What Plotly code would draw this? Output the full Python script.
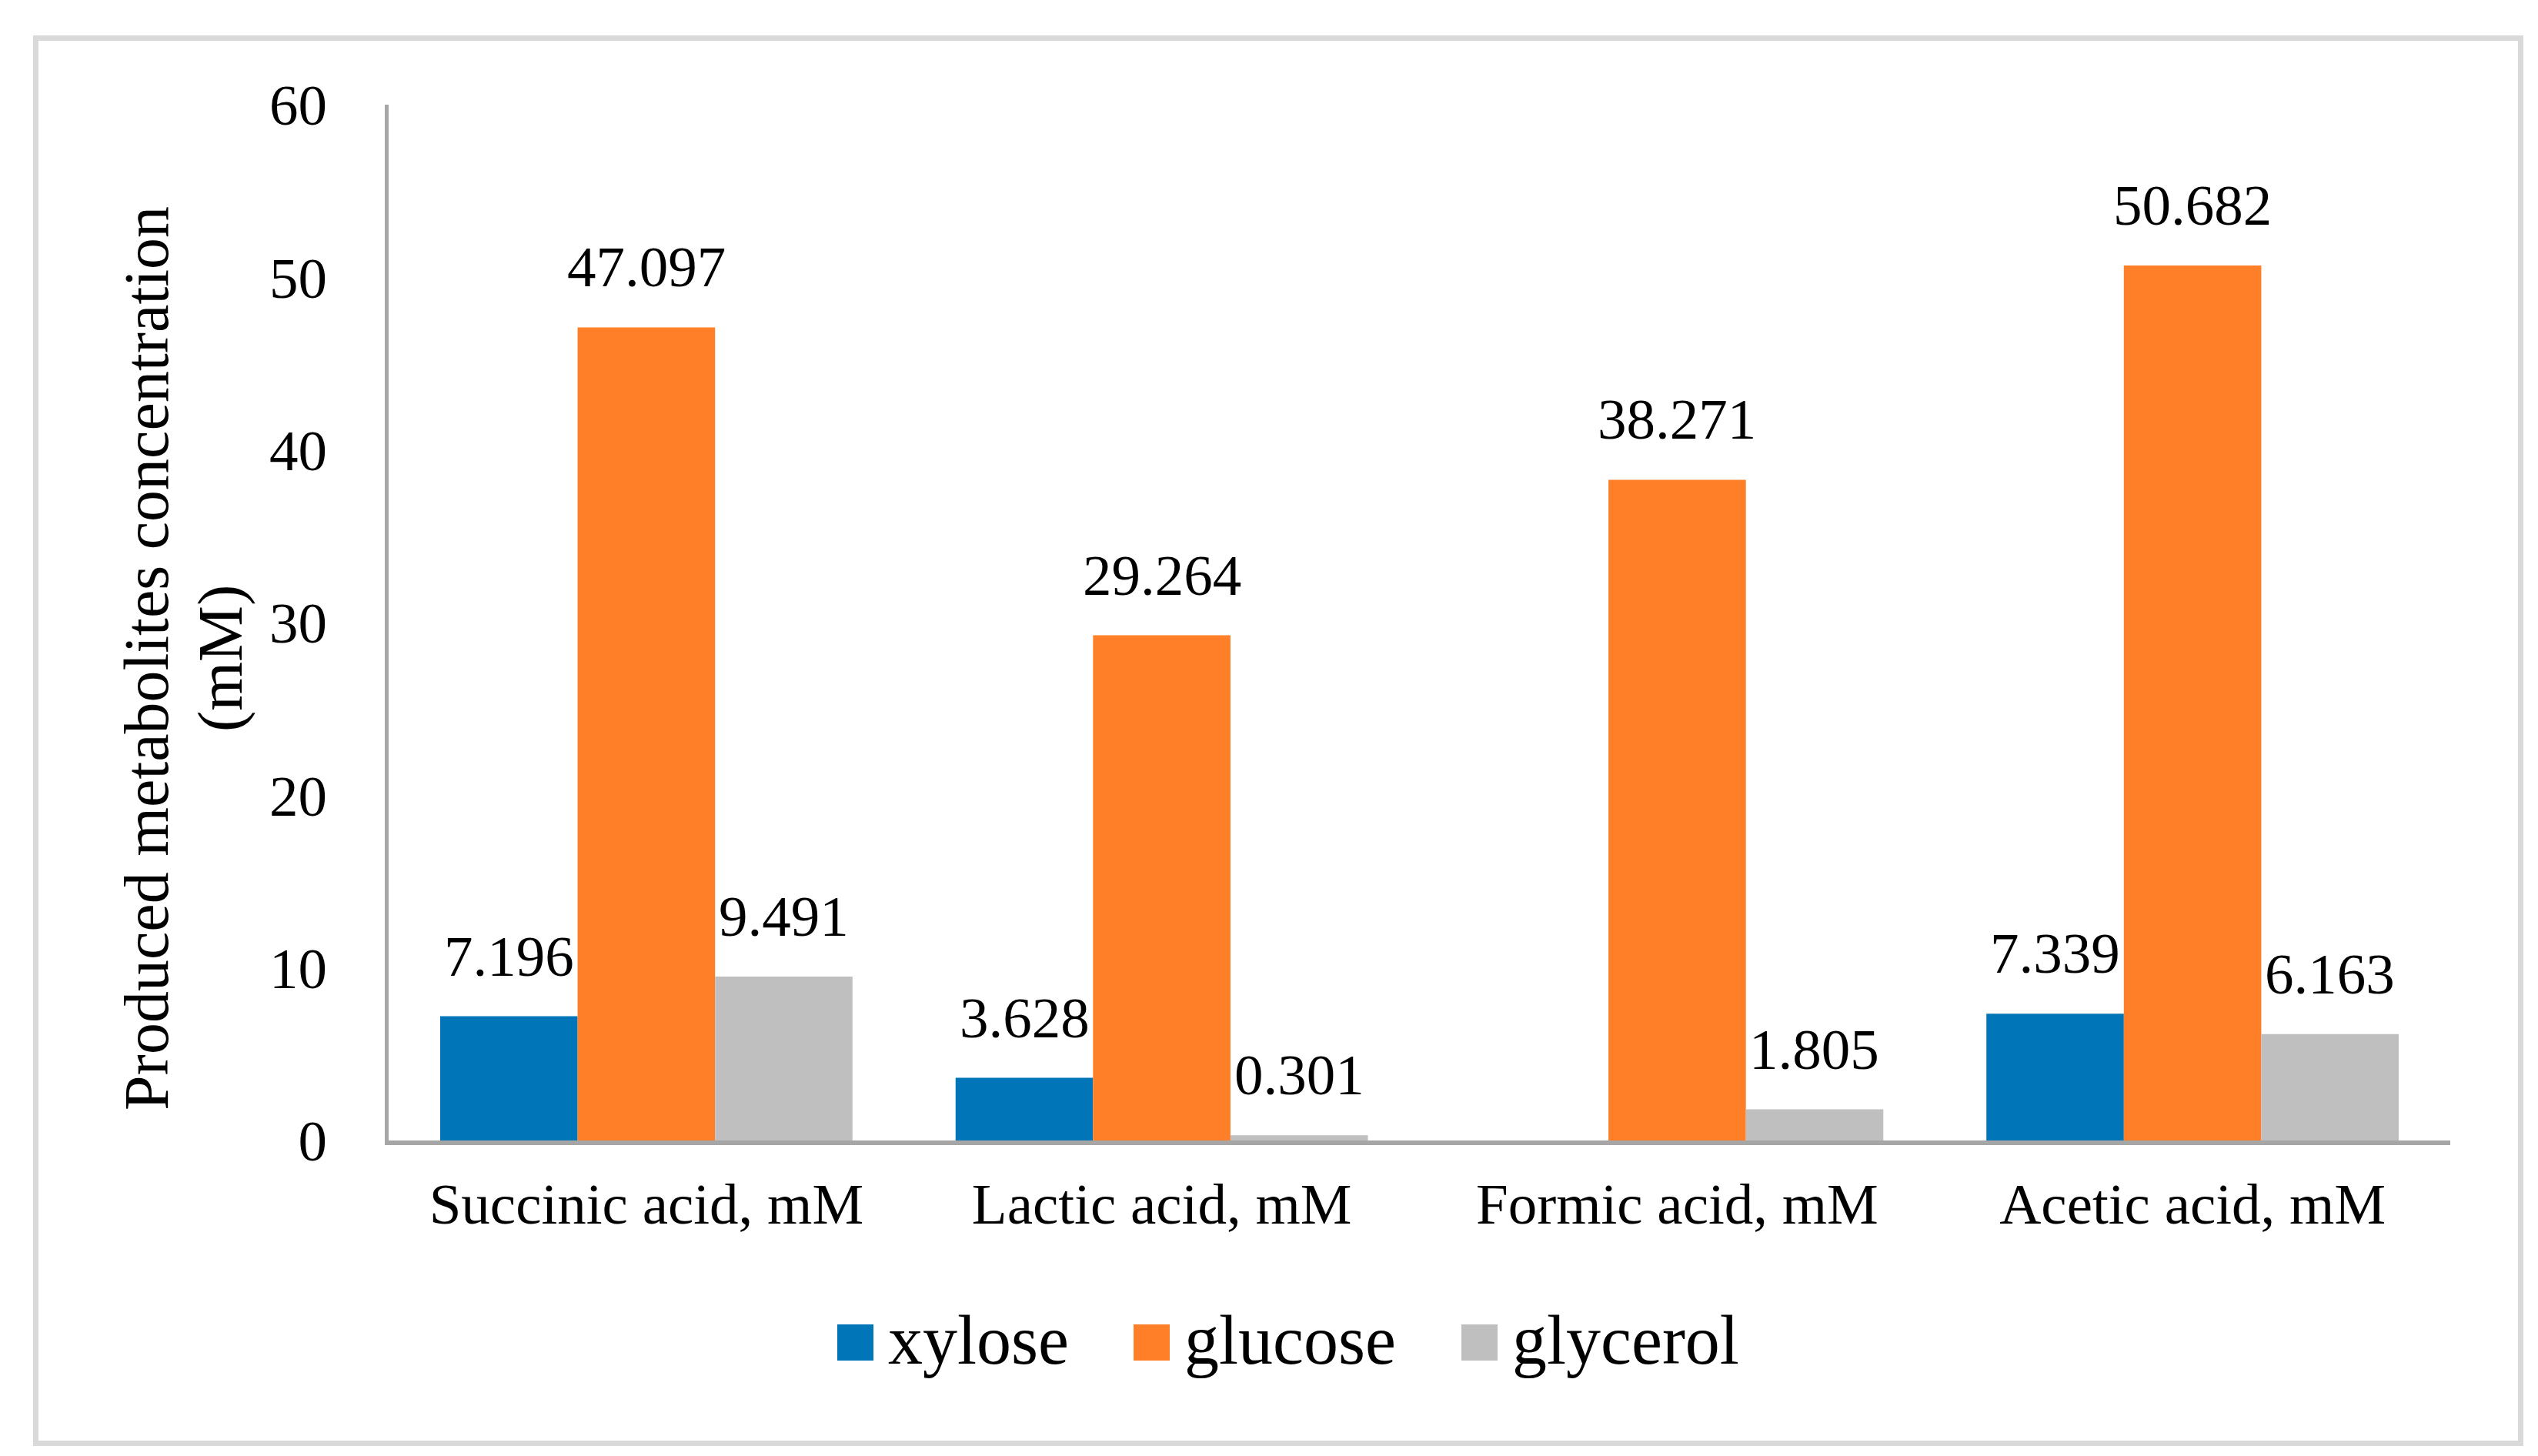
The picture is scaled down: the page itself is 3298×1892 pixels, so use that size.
import plotly.graph_objects as go

categories = ["Succinic acid, mM", "Lactic acid, mM", "Formic acid, mM", "Acetic acid, mM"]
series_names = ["xylose", "glucose", "glycerol"]
xylose = [7.196, 3.628, None, 7.339]
glucose = [47.097, 29.264, 38.271, 50.682]
glycerol = [9.491, 0.301, 1.805, 6.163]
y_ticks = [0, 10, 20, 30, 40, 50, 60]
y_title_line1 = "Produced metabolites concentration"
y_title_line2 = "(mM)"

colors = ["#0075B8", "#FE7F28", "#BFBFBF"]
FONT = "Liberation Serif, Times New Roman, serif"

W, H = 3298, 1892
L, R, T, B = 497, 122, 128, 418
PW, PH = W - L - R, H - T - B


def px_x(p):
    return (p - L) / PW


def px_y(p):
    return (H - B - p) / PH


series = [xylose, glucose, glycerol]
fig = go.Figure()
for name, vals, col in zip(series_names, series, colors):
    fig.add_trace(go.Bar(
        x=categories, y=vals, name=name, marker=dict(color=col, line=dict(width=0)),
        showlegend=False,
    ))

# data labels
bar_px = PW / len(categories) * 0.8 / len(series)
annotations = []
for si, vals in enumerate(series):
    for c, v in zip(categories, vals):
        if v is None:
            continue
        annotations.append(dict(
            x=c, y=v, xref="x", yref="y", text=f"{v:.3f}", showarrow=False,
            xanchor="center", yanchor="bottom", xshift=(si - 1) * bar_px, yshift=35,
            font=dict(family=FONT, size=75, color="black"),
        ))

# y-axis title (two lines)
annotations.append(dict(x=px_x(182), y=px_y(848), xref="paper", yref="paper", text=y_title_line1,
                        textangle=-90, showarrow=False, xanchor="center", yanchor="middle",
                        font=dict(family=FONT, size=82, color="black")))
annotations.append(dict(x=px_x(278), y=px_y(848), xref="paper", yref="paper", text=y_title_line2,
                        textangle=-90, showarrow=False, xanchor="center", yanchor="middle",
                        font=dict(family=FONT, size=82, color="black")))

# legend (drawn manually for large swatches)
shapes = []
leg_x = [1080, 1465, 1891]
sw = 47
for name, col, lx in zip(series_names, colors, leg_x):
    shapes.append(dict(type="rect", xref="paper", yref="paper",
                       x0=px_x(lx), x1=px_x(lx + sw), y0=px_y(1760), y1=px_y(1713),
                       fillcolor=col, line=dict(width=0)))
    annotations.append(dict(x=px_x(lx + sw + 17), y=px_y(1733), xref="paper", yref="paper",
                            text=name, showarrow=False, xanchor="left", yanchor="middle",
                            font=dict(family=FONT, size=90, color="black")))

# outer chart border
shapes.append(dict(type="rect", xref="paper", yref="paper",
                   x0=px_x(38.5), x1=px_x(3267.5), y0=px_y(1867.5), y1=px_y(41.5),
                   line=dict(color="#D9D9D9", width=7), fillcolor="rgba(0,0,0,0)", layer="below"))

fig.update_layout(
    width=W, height=H, margin=dict(l=L, r=R, t=T, b=B, pad=0),
    paper_bgcolor="white", plot_bgcolor="white",
    barmode="group", bargap=0.2, bargroupgap=0,
    font=dict(family=FONT, size=75, color="black"),
    annotations=annotations, shapes=shapes, showlegend=False,
    xaxis=dict(showline=True, linecolor="#A6A6A6", linewidth=6, ticks="", showgrid=False,
               tickfont=dict(family=FONT, size=75, color="black"), ticklabelstandoff=12,
               zeroline=False),
    yaxis=dict(range=[0, 60], tickvals=y_ticks, showline=True, linecolor="#A6A6A6", linewidth=5,
               ticks="", showgrid=False, zeroline=False,
               tickfont=dict(family=FONT, size=75, color="black"), ticklabelstandoff=60),
)

fig.write_html("out.html")
